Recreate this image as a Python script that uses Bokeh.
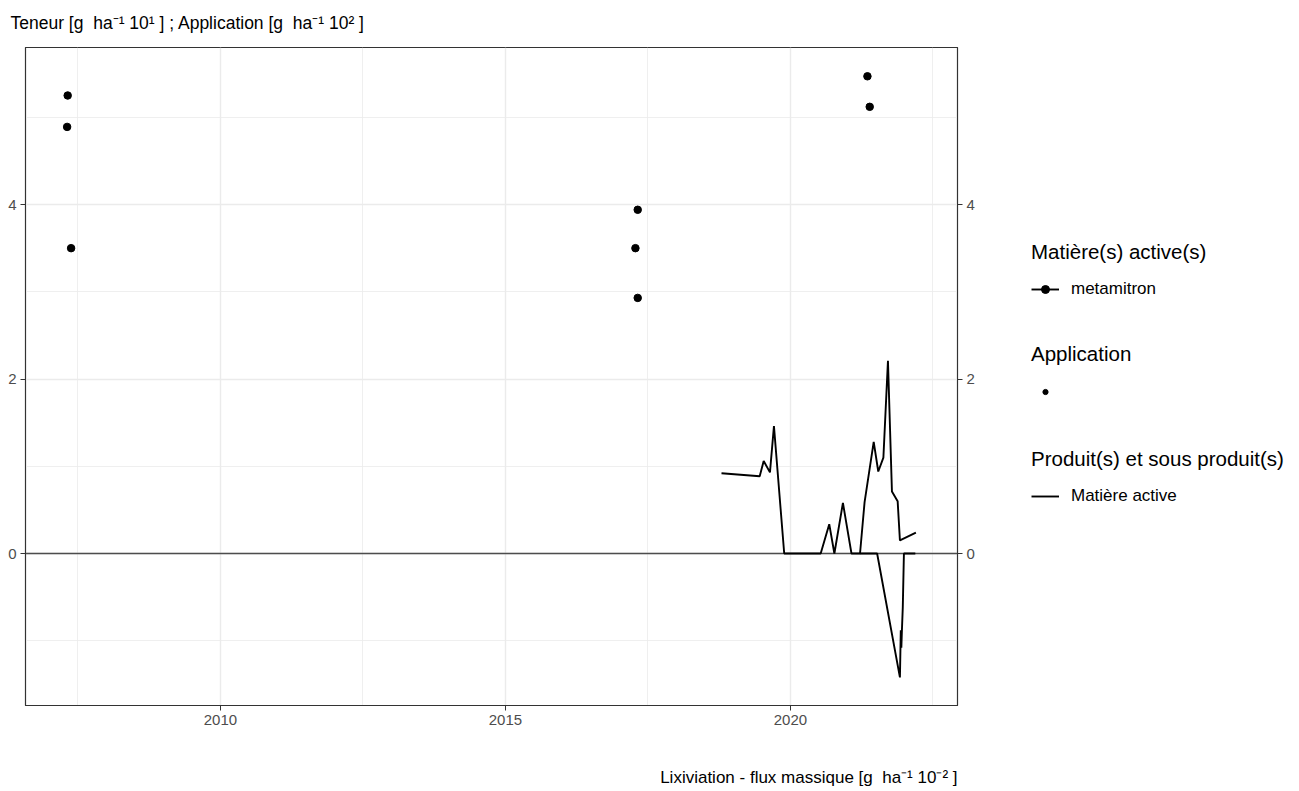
from bokeh.plotting import figure
from bokeh.models import (Range1d, FixedTicker, LinearAxis, Span, Legend,
                          LegendItem, ColumnDataSource, Title, Label)
from bokeh.layouts import row, column
from bokeh.embed import file_html
from bokeh.resources import INLINE

# ---- data ----
teneur_dates = [2007.31, 2007.38, 2017.28, 2017.32, 2021.39]
teneur_values = [4.89, 3.50, 3.50, 2.93, 5.12]

appl_dates = [2007.32, 2017.32, 2021.35]
appl_values = [5.25, 3.94, 5.47]

flux_a_dates = [2018.79, 2019.46, 2019.53, 2019.64, 2019.71, 2019.89, 2020.0, 2020.1,
                2020.18, 2020.44, 2020.53, 2020.68, 2020.77, 2020.92, 2021.07, 2021.22,
                2021.30, 2021.46, 2021.54, 2021.63, 2021.71, 2021.78, 2021.88, 2021.92,
                2022.20]
flux_a_values = [0.92, 0.886, 1.06, 0.93, 1.46, 0, 0, 0,
                 0, 0, 0, 0.336, 0, 0.58, 0, 0,
                 0.59, 1.28, 0.94, 1.10, 2.21, 0.71, 0.60, 0.15,
                 0.24]

flux_b_dates = [2021.22, 2021.52, 2021.92, 2021.935, 2021.945, 2021.955, 2021.97,
                2021.99, 2022.05, 2022.19]
flux_b_values = [0, 0, -1.42, -0.88, -1.08, -0.88, -0.62, 0, 0, 0]

x_ticks = [2010, 2015, 2020]
x_minor = [2007.5, 2012.5, 2017.5, 2022.5]
y_ticks = [0, 2, 4]
y_minor = [-1, 1, 3, 5]

FONT = "Liberation Sans"
DARK = "#333333"
TICKLAB = "#4D4D4D"
GRID = "#EBEBEB"
NB = "\u00a0"

H_TOTAL = 791
H = 735          # main row height
HC = H_TOTAL - H  # caption strip height
W1 = 990
W2 = 305
FL, FR, FT, FB = 25, 957, 47, 705  # frame edges in page pixels

p = figure(width=W1, height=H, output_backend="svg", toolbar_location=None,
           x_range=Range1d(2006.58, 2022.93), y_range=Range1d(-1.742, 5.80),
           min_border_left=FL, min_border_right=W1 - FR, min_border_top=FT,
           min_border_bottom=H - FB)
p.background_fill_color = "white"
p.border_fill_color = "white"
p.outline_line_color = DARK
p.outline_line_width = 1.2

p.xaxis.ticker = FixedTicker(ticks=x_ticks, minor_ticks=x_minor)
p.yaxis.ticker = FixedTicker(ticks=y_ticks, minor_ticks=y_minor)

right_axis = LinearAxis(ticker=FixedTicker(ticks=y_ticks, minor_ticks=y_minor))
p.add_layout(right_axis, "right")

for ax in p.axis:
    ax.axis_line_color = DARK
    ax.major_tick_line_color = DARK
    ax.major_tick_out = 5
    ax.major_tick_in = 0
    ax.minor_tick_line_color = None
    ax.major_label_text_color = TICKLAB
    ax.major_label_text_font = FONT
    ax.major_label_text_font_size = "15px"
    ax.major_label_standoff = 4

for g in (p.xgrid, p.ygrid):
    g.grid_line_color = GRID
    g.grid_line_width = 1.4
    g.minor_grid_line_color = GRID
    g.minor_grid_line_width = 0.8

p.add_layout(Span(location=0, dimension="width", line_color="#4D4D4D",
                  line_width=1.4, level="underlay"))

r_fa = p.line(flux_a_dates, flux_a_values, line_color="black", line_width=1.9)
r_fb = p.line(flux_b_dates, flux_b_values, line_color="black", line_width=1.9)
r_ten = p.scatter(teneur_dates, teneur_values, size=7.5, color="black")
r_app = p.scatter(appl_dates, appl_values, size=7.5, color="black")

p.add_layout(Title(text=f"Teneur [g{NB} ha⁻¹ 10¹ ] ; Application [g{NB} ha⁻¹ 10² ]",
                   align="left", offset=-15, standoff=25, vertical_align="top",
                   text_font=FONT, text_font_size="17.5px", text_font_style="normal",
                   text_color="black"), "above")

# ---- legend figure ----
q = figure(width=W2, height=H, output_backend="svg", toolbar_location=None,
           x_range=Range1d(0, 1), y_range=Range1d(0, 1),
           min_border=0, outline_line_color=None)
q.axis.visible = False
q.grid.visible = False
q.background_fill_color = "white"
q.border_fill_color = "white"

dummy_src = ColumnDataSource(data=dict(x=[-5.0], y=[-5.0]))
d_line = q.line("x", "y", source=dummy_src, line_color="black", line_width=1.9)
d_pt = q.scatter("x", "y", source=dummy_src, size=7.5, color="black")
d_app = q.scatter("x", "y", source=dummy_src, size=5, color="black")


def make_legend(title, label, renderers, loc, gh=20):
    lg = Legend(items=[LegendItem(label=label, renderers=renderers)], title=title,
                location=loc, padding=0, margin=0, border_line_color=None,
                background_fill_alpha=0, glyph_width=28, glyph_height=gh,
                label_height=20, label_standoff=12, title_standoff=15, spacing=0)
    lg.title_text_font = FONT
    lg.title_text_font_size = "20.5px"
    lg.title_text_font_style = "normal"
    lg.title_text_color = "black"
    lg.label_text_font = FONT
    lg.label_text_font_size = "17px"
    lg.label_text_color = "black"
    return lg


LX = 1031 - W1
q.add_layout(make_legend("Matière(s) active(s)", "metamitron", [d_line, d_pt], (LX, FB - 299)))
q.add_layout(make_legend("Application", " ", [d_app], (LX, FB - 401), gh=13))
q.add_layout(make_legend("Produit(s) et sous produit(s)", "Matière active", [d_line], (LX, FB - 506)))

# ---- caption strip under the main panel ----
cap = figure(width=W1, height=HC, output_backend="svg", toolbar_location=None,
             x_range=Range1d(0, 1), y_range=Range1d(0, 1),
             min_border_left=FL, min_border_right=W1 - FR, min_border_top=0,
             min_border_bottom=0, outline_line_color=None)
cap.axis.visible = False
cap.grid.visible = False
cap.background_fill_color = "white"
cap.border_fill_color = "white"
cap.add_layout(Label(x=FR - FL, y=H_TOTAL - 777, x_units="screen", y_units="screen",
                     text=f"Lixiviation - flux massique [g{NB} ha⁻¹ 10⁻² ]",
                     text_font=FONT, text_font_size="17px", text_color="black",
                     text_align="right", text_baseline="middle"))

layout = column(row(p, q, spacing=0), cap, spacing=0)
open("out.html", "w").write(file_html(layout, INLINE))
